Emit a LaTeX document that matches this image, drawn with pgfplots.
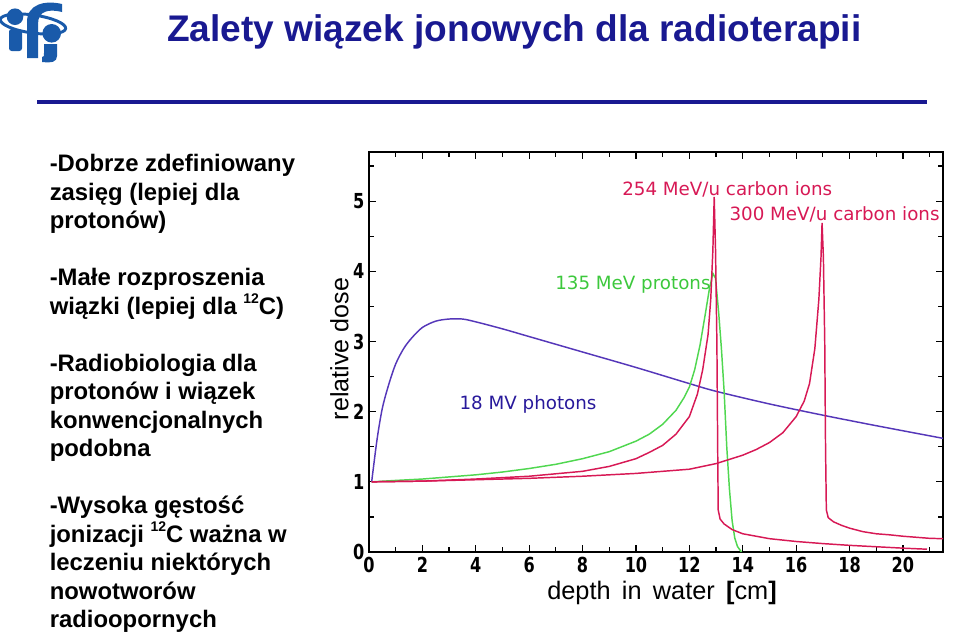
\documentclass[border=0pt]{standalone}
\usepackage{pgfplots}
\pgfplotsset{compat=1.18}
\usepackage{fontspec}
\setmainfont{Liberation Sans}
\newfontfamily\dv{DejaVu Sans}
\newfontfamily\dvc{DejaVu Sans}[FakeStretch=0.78]
\definecolor{titleblue}{RGB}{25,25,145}
\definecolor{logoblue}{RGB}{25,90,170}
\definecolor{carbon}{RGB}{215,25,85}
\definecolor{proton}{RGB}{80,215,80}
\definecolor{protontxt}{RGB}{60,200,60}
\definecolor{photon}{RGB}{85,55,185}
\definecolor{photontxt}{RGB}{40,25,155}
\newcommand{\supr}[1]{\raisebox{0.42em}{\fontsize{10.5}{11}\selectfont #1}}
\begin{document}
\begin{tikzpicture}
\begin{axis}[
  at={(276.75pt,-414pt)}, anchor=south west,
  scale only axis, width=430.5pt, height=300pt,
  xmin=0, xmax=21.5, ymin=0, ymax=5.7,
  xtick={0,2,...,20}, minor xtick={1,3,...,21},
  ytick={0,1,...,5}, minor ytick={0.5,1.5,...,5.5},
  tick align=inside,
  major tick length=5.5pt, minor tick length=3.5pt,
  axis line style={line width=1.1pt},
  every tick/.style={black, line width=0.9pt},
  /pgf/number format/assume math mode=true,
  ticklabel style={font=\dvc\bfseries\fontsize{15.5}{17}\selectfont},
  xticklabel style={text height=11.5pt, text depth=0pt},
  yticklabel style={xshift=0pt},
  clip=false,
]
% 18 MV photons
\addplot[photon, line width=1.1pt, smooth] coordinates {
(0.1,1.0) (0.3,1.6) (0.5,2.05) (0.75,2.4) (1.0,2.68) (1.3,2.9) (1.6,3.05) (2.0,3.2) (2.5,3.29) (3.0,3.32) (3.5,3.32) (4.0,3.28) (5,3.18) (6,3.07) (8,2.85) (10,2.63) (12,2.4) (13,2.29) (15,2.11) (17,1.95) (19,1.8) (21.5,1.62)};
% 135 MeV protons
\addplot[proton, line width=1.1pt] coordinates {
(0.1,1.00) (1,1.02) (2,1.04) (3,1.07) (4,1.10) (5,1.14) (6,1.19) (7,1.25) (8,1.33) (9,1.43) (10,1.58) (10.5,1.68) (11,1.82) (11.5,2.02) (11.8,2.2) (12.0,2.35) (12.2,2.6) (12.4,2.95) (12.6,3.4) (12.75,3.75) (12.88,3.97) (12.98,3.9) (13.1,3.4) (13.2,2.9) (13.3,2.3) (13.4,1.5) (13.5,0.9) (13.6,0.45) (13.7,0.2) (13.8,0.08) (13.95,0.0)};
% 254 MeV/u carbon
\addplot[carbon, line width=1.1pt] coordinates {
(0.1,1.00) (2,1.01) (4,1.04) (6,1.08) (8,1.15) (9,1.22) (10,1.33) (10.5,1.42) (11,1.52) (11.5,1.68) (12,1.93) (12.3,2.25) (12.5,2.6) (12.7,3.1) (12.8,3.6) (12.88,4.3) (12.93,5.06) (12.98,4.3) (13.03,3.0) (13.06,1.5) (13.08,0.6) (13.15,0.47) (13.3,0.40) (13.6,0.32) (14,0.26) (15,0.19) (16,0.15) (17,0.12) (18,0.095) (19,0.075) (20,0.055) (20.9,0.04)};
% 300 MeV/u carbon
\addplot[carbon, line width=1.1pt] coordinates {
(0.1,1.00) (2,1.01) (4,1.03) (6,1.05) (8,1.08) (10,1.12) (11,1.15) (12,1.18) (13,1.26) (14,1.38) (14.5,1.46) (15,1.56) (15.5,1.70) (16,1.93) (16.3,2.15) (16.5,2.4) (16.7,2.9) (16.85,3.6) (16.93,4.2) (16.97,4.69) (17.02,4.2) (17.07,3.0) (17.1,1.5) (17.13,0.6) (17.2,0.49) (17.4,0.43) (17.7,0.38) (18,0.34) (18.5,0.29) (19,0.26) (19.5,0.245) (20,0.225) (20.5,0.21) (21,0.195) (21.5,0.19)};
\end{axis}
\begin{scope}[x=0.75pt,y=-0.75pt]
\path[use as bounding box] (0,0) rectangle (959,637);
% logo
\draw[logoblue, line width=2.2pt, rotate around={-8:(33,24)}] (33,24) ellipse (33 and 9);
\fill[logoblue] (15,16.7) circle (8.3);
\fill[logoblue, rounded corners=2pt] (9,29) rectangle (22,51);
\fill[logoblue] (27,58) -- (27,22) .. controls (27,4) and (45,0) .. (62,4) -- (62,12) .. controls (50,9) and (38,10) .. (38,24) -- (38,58) -- cycle;
\fill[logoblue] (51.7,33.3) circle (9.3);
\fill[logoblue] (44,44) -- (57,44) -- (57,56) .. controls (57,62) and (52,63) .. (42,62) -- (42,57) .. controls (44,57) and (44,56) .. (44,53) -- cycle;
% title
\node[anchor=base, text=titleblue, font=\fontsize{27.8}{32}\selectfont\bfseries, inner sep=0pt] at (514.3,41.7) {Zalety wiązek jonowych dla radioterapii};
\draw[titleblue, line width=2.3pt] (37,102) -- (927,102);
% bullet text
\foreach \k/\t in {0/{-Dobrze zdefiniowany}, 1/{zasięg (lepiej dla}, 2/{protonów)},
  4/{-Małe rozproszenia}, 5/{wiązki (lepiej dla \supr{12}C)},
  7/{-Radiobiologia dla}, 8/{protonów i wiązek}, 9/{konwencjonalnych}, 10/{podobna},
  12/{-Wysoka gęstość}, 13/{jonizacji \supr{12}C ważna w}, 14/{leczeniu niektórych}, 15/{nowotworów}, 16/{radioopornych}}
  \node[anchor=base west, inner sep=0pt, font=\fontsize{17.9}{20}\selectfont\bfseries] at (49.5,171.5+28.5*\k) {\t};
% chart labels
\node[anchor=base west, inner sep=0pt, text=carbon, font=\dv\fontsize{13.7}{16}\selectfont] at (622,195) {254 MeV/u carbon ions};
\node[anchor=base west, inner sep=0pt, text=carbon, font=\dv\fontsize{13.7}{16}\selectfont] at (729.3,220) {300 MeV/u carbon ions};
\node[anchor=base west, inner sep=0pt, text=protontxt, font=\dv\fontsize{13.7}{16}\selectfont] at (555,289.3) {135 MeV protons};
\node[anchor=base west, inner sep=0pt, text=photontxt, font=\dv\fontsize{13.7}{16}\selectfont] at (459.3,409.3) {18 MV photons};
% axis labels
\node[rotate=90, inner sep=0pt, font=\fontsize{18.8}{22}\selectfont] at (339.5,349) {relative dose};
\node[inner sep=0pt, font=\fontsize{19}{22}\selectfont] at (662,593) {depth\, in\, water\, \textbf{[}cm\textbf{]}};
\end{scope}
\end{tikzpicture}
\end{document}
